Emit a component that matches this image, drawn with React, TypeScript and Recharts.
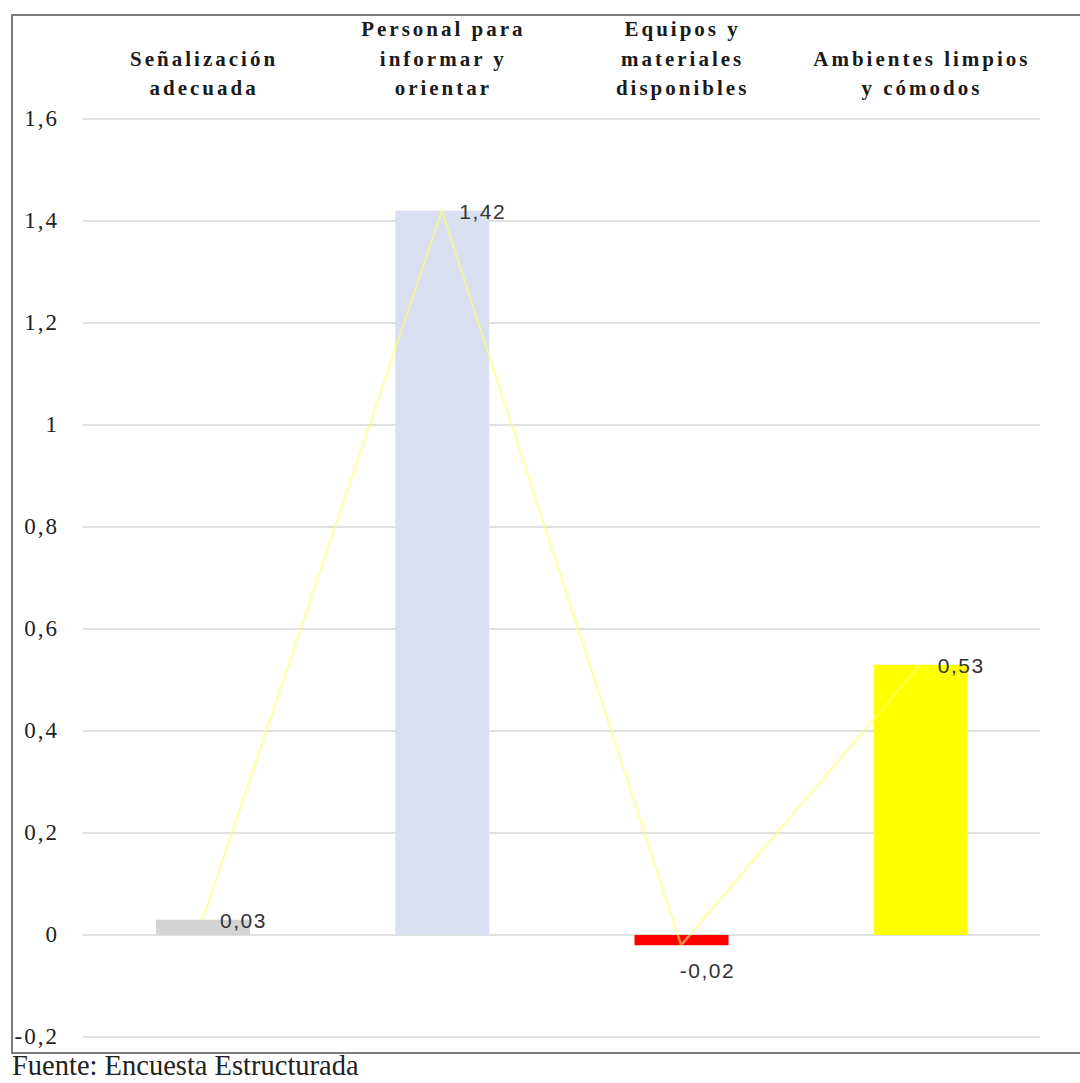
import { ComposedChart, Bar, Line, XAxis, YAxis, CartesianGrid, Cell, LabelList } from 'recharts'

const categories = [
  'Señalización adecuada',
  'Personal para informar y orientar',
  'Equipos y materiales disponibles',
  'Ambientes limpios y cómodos',
]
// header lines as they wrap above each column
const categoryLines = [
  ['Señalización', 'adecuada'],
  ['Personal para', 'informar y', 'orientar'],
  ['Equipos y', 'materiales', 'disponibles'],
  ['Ambientes limpios', 'y cómodos'],
]
const values = [0.03, 1.42, -0.02, 0.53]
const barColors = ['#d4d4d4', '#dadff2', '#ff0000', '#ffff00']
const yTicks = [-0.2, 0, 0.2, 0.4, 0.6, 0.8, 1, 1.2, 1.4, 1.6]

const rows = categories.map((name, i) => ({ name, value: values[i], idx: i }))

const fmt = (v: number) => String(Math.round(v * 100) / 100).replace('.', ',')

const SERIF = '"Liberation Serif", "Times New Roman", serif'
const SANS = '"Liberation Sans", Arial, sans-serif'

function CategoryTick(props: any) {
  const { x, payload } = props
  const lines = categoryLines[payload.index] ?? [payload.value]
  const base = 95
  return (
    <g>
      {lines.map((ln, i) => (
        <text
          key={i}
          x={x + 1.5}
          y={base - (lines.length - 1 - i) * 29.5}
          textAnchor="middle"
          style={{ fontFamily: SERIF, fontWeight: 700, fontSize: 21, letterSpacing: 3 }}
          fill="#1a1a1a"
        >
          {ln}
        </text>
      ))}
    </g>
  )
}

function ValueTick(props: any) {
  const { y, payload } = props
  return (
    <text x={59} y={y + 7} textAnchor="end" style={{ fontFamily: SERIF, fontSize: 23, letterSpacing: 2 }} fill="#222">
      {fmt(payload.value)}
    </text>
  )
}

function ValueLabel(props: any) {
  const { x, y, width, height, value } = props
  const top = Math.min(y, y + height)
  const bottom = Math.max(y, y + height)
  const cx = x + width / 2
  const st = { fontFamily: SANS, fontSize: 21, letterSpacing: 1.5 }
  if (value < 0) {
    return (
      <text x={cx + 26} y={bottom + 33} textAnchor="middle" style={st} fill="#333">
        {fmt(value)}
      </text>
    )
  }
  return (
    <text x={cx + 17} y={top + 8} textAnchor="start" style={st} fill="#333">
      {fmt(value)}
    </text>
  )
}

export default function App() {
  return (
    <div style={{ position: 'absolute', left: 0, top: 0, width: 1080, height: 1083, overflow: 'hidden', background: '#fff' }}>
      <div
        style={{
          position: 'absolute', left: 11, top: 14, width: 1100, height: 1036,
          borderLeft: '2px solid #7a7a7a', borderTop: '2px solid #7a7a7a', borderBottom: '2px solid #7a7a7a',
        }}
      />
      <ComposedChart
        width={1080}
        height={1083}
        data={rows}
        margin={{ top: 19, right: 40, left: 10, bottom: 46 }}
        barCategoryGap="30%"
        style={{ position: 'absolute', left: 0, top: 0 }}
      >
        <CartesianGrid vertical={false} stroke="#d6d6d6" strokeWidth={1.5} />
        <XAxis
          dataKey="name"
          orientation="top"
          height={100}
          axisLine={false}
          tickLine={false}
          interval={0}
          tick={<CategoryTick />}
        />
        <YAxis
          domain={[-0.2, 1.6]}
          ticks={yTicks}
          width={73}
          axisLine={false}
          tickLine={false}
          tick={<ValueTick />}
          allowDataOverflow
        />
        <Bar dataKey="value" barSize={94} isAnimationActive={false}>
          {rows.map((r) => (
            <Cell key={r.name} fill={barColors[r.idx]} />
          ))}
          <LabelList dataKey="value" content={<ValueLabel />} />
        </Bar>
        <Line
          dataKey="value"
          type="linear"
          stroke="#ffff70"
          strokeWidth={2.5}
          strokeOpacity={0.55}
          dot={false}
          activeDot={false}
          isAnimationActive={false}
        />
      </ComposedChart>
      <div
        style={{
          position: 'absolute', left: 12, top: 1050, fontFamily: SERIF,
          fontSize: 28.5, color: '#222', whiteSpace: 'nowrap',
        }}
      >
        Fuente: Encuesta Estructurada
      </div>
    </div>
  )
}
